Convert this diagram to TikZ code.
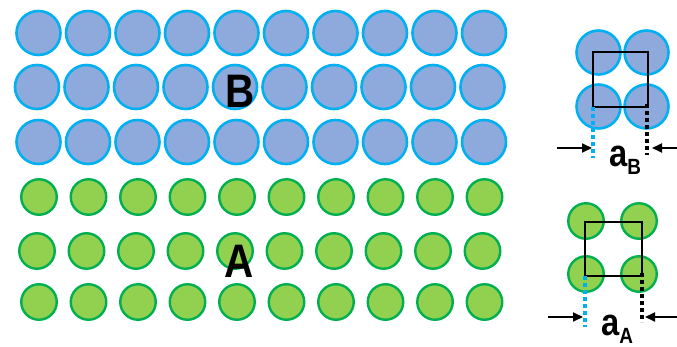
\documentclass[tikz,border=0pt]{standalone}
\usepackage{fontspec}
\setmainfont{Liberation Sans}
\usetikzlibrary{arrows.meta}
\definecolor{bfill}{HTML}{8EA9DB}
\definecolor{bline}{HTML}{00B0F0}
\definecolor{afill}{HTML}{92D050}
\definecolor{aline}{HTML}{00B050}

\begin{document}
\begin{tikzpicture}[x=1pt,y=-1pt,
    batom/.style={circle, draw=bline, fill=bfill, line width=2.6pt, minimum size=44pt, inner sep=0pt},
    aatom/.style={circle, draw=aline, fill=afill, line width=2.4pt, minimum size=35.5pt, inner sep=0pt},
    big/.style={inner sep=0pt, font=\bfseries\fontsize{47}{47}\selectfont},
    cell/.style={line width=1.6pt},
    dotb/.style={bline, line width=3.8pt, dash pattern=on 4pt off 3pt},
    dotk/.style={black, line width=3.8pt, dash pattern=on 4pt off 3pt},
    dim/.style={line width=1.8pt, -{Triangle[length=10pt,width=9pt]}}]
  \useasboundingbox (0,0) rectangle (677,347);
  % layer B
  \foreach \r/\y/\dx in {1/33/0, 2/87/-1.5, 3/142/0}
    \foreach \c in {0,...,9}
      \node[batom] (b\r\c) at (38.5+49.5*\c+\dx,\y) {};
  % layer A
  \foreach \r/\y/\dx in {1/197/0, 2/251/-2, 3/302/0}
    \foreach \c in {0,...,9}
      \node[aatom] (a\r\c) at (39+49.5*\c+\dx,\y) {};
  \node[big] (labB) at (240,91) {\scalebox{0.86}[1]{B}};
  \node[big] (labA) at (239,261) {\scalebox{0.86}[1]{A}};

  % unit cell B
  \node[batom] (cb1) at (598.5,52.5) {};
  \node[batom] (cb2) at (646.5,52.5) {};
  \node[batom] (cb3) at (598.5,106.5) {};
  \node[batom] (cb4) at (646.5,106.5) {};
  \draw[cell] (593,52) rectangle (648,107);
  \coordinate (bd1) at (593,107);
  \coordinate (bd2) at (593,158);
  \coordinate (bd3) at (647,104);
  \coordinate (bd4) at (647,155);
  \draw[dotb] (bd1) -- (bd2);
  \draw[dotk] (bd3) -- (bd4);
  \coordinate (bl0) at (557,148);
  \coordinate (bl1) at (592,148);
  \coordinate (br0) at (677,148);
  \coordinate (br1) at (652,148);
  \draw[dim] (bl0) -- (bl1);
  \draw[dim] (br0) -- (br1);
  \node[inner sep=0pt, anchor=base west] (latB) at (609,167)
    {\bfseries\scalebox{0.86}[1]{\fontsize{38}{38}\selectfont a\raisebox{-8pt}{\fontsize{22}{22}\selectfont B}}};

  % unit cell A
  \node[aatom] (ca1) at (586,221) {};
  \node[aatom] (ca2) at (639,221) {};
  \node[aatom] (ca3) at (586,274) {};
  \node[aatom] (ca4) at (639,274) {};
  \draw[cell] (585,222) rectangle (642,276);
  \coordinate (ad1) at (585,276);
  \coordinate (ad2) at (585,327);
  \coordinate (ad3) at (642,273);
  \coordinate (ad4) at (642,322);
  \draw[dotb] (ad1) -- (ad2);
  \draw[dotk] (ad3) -- (ad4);
  \coordinate (al0) at (548,317);
  \coordinate (al1) at (583,317);
  \coordinate (ar0) at (677,317);
  \coordinate (ar1) at (645,317);
  \draw[dim] (al0) -- (al1);
  \draw[dim] (ar0) -- (ar1);
  \node[inner sep=0pt, anchor=base west] (latA) at (601,335)
    {\bfseries\scalebox{0.86}[1]{\fontsize{38}{38}\selectfont a\raisebox{-8pt}{\fontsize{22}{22}\selectfont A}}};
\end{tikzpicture}
\end{document}
